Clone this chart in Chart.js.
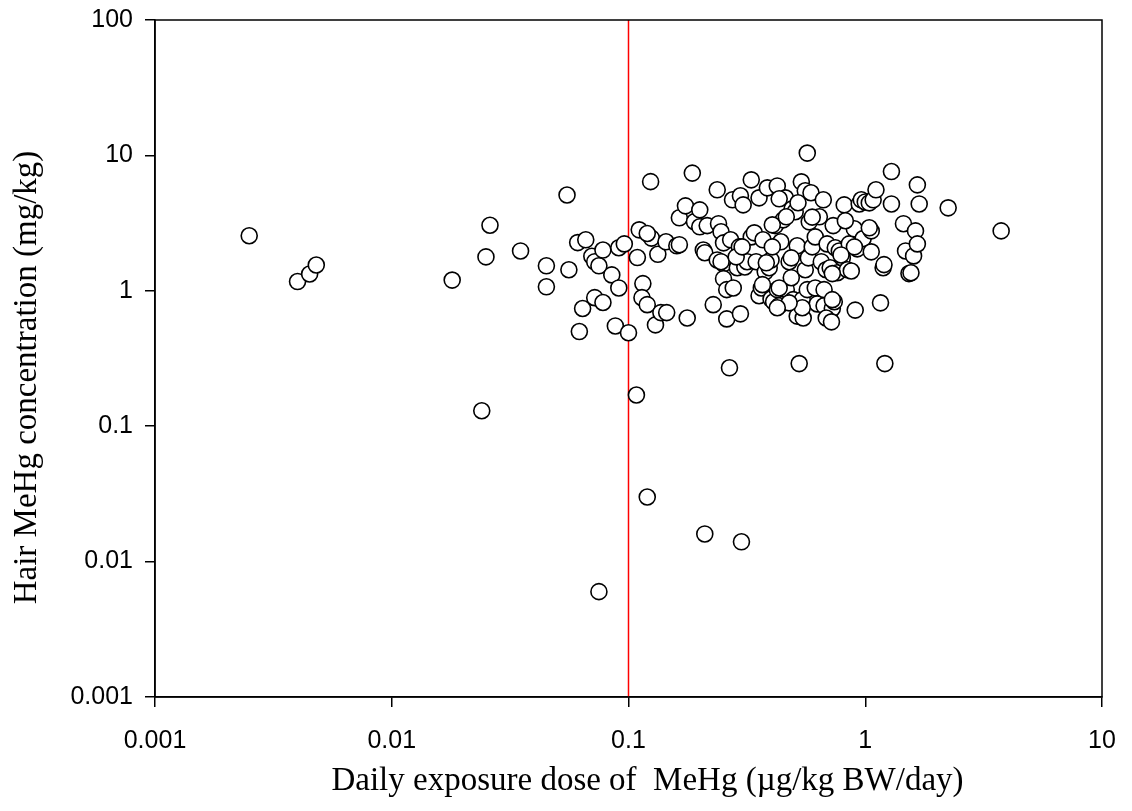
<!DOCTYPE html>
<html lang="en">
<head>
  <meta charset="UTF-8">
  <title>Hair MeHg vs daily exposure dose</title>
  <script src="https://cdn.jsdelivr.net/npm/chart.js"></script>
  <style>
    body { margin: 0; background: #fff; }
    #wrap { width: 1132px; height: 811px; }
  </style>
</head>
<body>
  <div id="wrap"><canvas id="scatterChart" width="1132" height="811"></canvas></div>
  <script>
    // daily exposure dose (ug/kg BW/day) and hair MeHg (mg/kg)
    const doseValues = [
      0.0025, 0.004, 0.0045, 0.0048, 0.018, 0.024, 0.025, 0.026, 0.035, 0.045,
      0.045, 0.055, 0.056, 0.061, 0.062, 0.064, 0.066, 0.07, 0.072, 0.072,
      0.075, 0.075, 0.078, 0.078, 0.085, 0.088, 0.091, 0.091, 0.096, 0.1,
      0.108, 0.111, 0.109, 0.115, 0.114, 0.12, 0.12, 0.124, 0.125, 0.13,
      0.133, 0.137, 0.144, 0.145, 0.16, 0.164, 0.164, 0.174, 0.177, 0.186,
      0.19, 0.2, 0.2, 0.207, 0.21, 0.215, 0.21, 0.228, 0.237, 0.237,
      0.24, 0.246, 0.252, 0.252, 0.252, 0.26, 0.26, 0.267, 0.27, 0.275,
      0.277, 0.286, 0.288, 0.294, 0.297, 0.297, 0.3, 0.305, 0.31, 0.317,
      0.33, 0.33, 0.34, 0.346, 0.356, 0.356, 0.364, 0.37, 0.378, 0.386,
      0.393, 0.4, 0.4, 0.41, 0.417, 0.425, 0.425, 0.433, 0.44, 0.45,
      0.46, 0.464, 0.477, 0.487, 0.491, 0.496, 0.506, 0.516, 0.516, 0.526,
      0.537, 0.542, 0.547, 0.558, 0.558, 0.569, 0.569, 0.575, 0.58, 0.59,
      0.597, 0.615, 0.615, 0.627, 0.64, 0.652, 0.665, 0.67, 0.684, 0.69,
      0.705, 0.711, 0.726, 0.732, 0.74, 0.747, 0.762, 0.777, 0.8, 0.815,
      0.84, 0.856, 0.873, 0.899, 0.907, 0.925, 0.943, 0.962, 0.98, 1.0,
      1.04, 1.06, 1.06, 1.08, 1.11, 1.16, 1.19, 1.21, 1.29, 1.29,
      1.45, 1.48, 1.53, 1.56, 1.6, 1.63, 1.66, 1.66, 1.69, 2.24,
      3.75, 0.12, 0.246, 0.285, 0.302, 0.405, 0.405, 0.382, 0.52, 0.433,
      0.597, 0.464, 0.824, 1.04, 0.9, 0.79, 0.487, 1.2, 0.368, 0.433,
      0.67, 0.726, 0.542, 0.477, 0.425, 0.684, 0.72, 0.726
    ];
    const hairValues = [
      2.55, 1.17, 1.33, 1.55, 1.2, 0.13, 1.78, 3.05, 1.97, 1.53,
      1.07, 5.1, 1.43, 2.27, 0.5, 0.74, 2.38, 1.8, 1.64, 0.89,
      0.006, 1.53, 2.0, 0.82, 1.31, 0.55, 1.05, 2.08, 2.22, 0.49,
      0.17, 2.82, 1.76, 1.13, 0.89, 0.03, 0.79, 6.4, 2.45, 0.56,
      1.86, 0.69, 2.3, 0.69, 2.15, 3.46, 2.19, 4.24, 0.63, 7.4,
      3.24, 2.97, 3.96, 2.0, 0.016, 3.03, 1.91, 0.79, 5.57, 1.69,
      3.13, 2.73, 2.26, 1.58, 1.23, 1.02, 0.62, 0.27, 2.38, 4.7,
      1.05, 1.64, 1.48, 2.11, 5.03, 0.676, 0.014, 4.31, 1.5, 1.64,
      6.6, 2.5, 2.68, 1.64, 4.86, 0.92, 1.05, 2.38, 1.38, 5.76,
      1.48, 1.69, 0.87, 0.83, 3.03, 5.95, 1.02, 0.775, 2.3, 3.34,
      4.86, 1.02, 1.64, 1.25, 4.03, 0.86, 3.84, 2.15, 0.65, 0.29,
      6.38, 0.86, 0.63, 5.48, 1.43, 10.4, 1.02, 1.75, 3.23, 5.3,
      2.11, 2.5, 1.05, 0.8, 3.52, 1.64, 4.7, 0.775, 1.43, 2.22,
      0.63, 1.48, 0.74, 3.03, 0.83, 2.08, 1.36, 1.97, 1.75, 4.31,
      1.43, 2.22, 1.4, 2.87, 0.72, 2.04, 4.38, 4.7, 2.43, 4.53,
      4.46, 2.77, 1.94, 4.7, 5.57, 0.815, 1.48, 0.29, 7.6, 4.38,
      3.13, 1.97, 1.34, 1.36, 1.81, 2.77, 2.22, 6.06, 4.38, 4.1,
      2.77, 2.65, 1.64, 1.78, 2.11, 3.07, 2.11, 1.61, 4.47, 4.78,
      3.5, 3.52, 3.29, 2.92, 2.11, 1.84, 1.75, 1.56, 1.11, 1.05,
      1.02, 0.86, 0.75, 0.815, 0.75, 0.63, 0.59, 1.34
    ];
    const referenceDose = 0.1;
    const xTickValues = [0.001, 0.01, 0.1, 1, 10];
    const xTickLabels = ['0.001', '0.01', '0.1', '1', '10'];
    const yTickValues = [0.001, 0.01, 0.1, 1, 10, 100];
    const yTickLabels = ['0.001', '0.01', '0.1', '1', '10', '100'];
    const xTitle = 'Daily exposure dose of  MeHg (\u00b5g/kg BW/day)';
    const yTitle = 'Hair MeHg concentration (mg/kg)';

    const points = doseValues.map((d, i) => ({ x: d, y: hairValues[i] }));
    const tickFont = { family: "'Liberation Sans', Arial, sans-serif", size: 25, lineHeight: 1 };
    const titleFont = "33px 'Liberation Serif', 'Times New Roman', serif";

    // box round the plot area, plus the two axis titles (sit a bit off-centre in the original)
    const frame = {
      id: 'frame',
      afterDatasetsDraw(chart) {
        const { ctx, chartArea: a } = chart;
        ctx.save();
        ctx.strokeStyle = '#000';
        ctx.lineWidth = 1.5;
        ctx.strokeRect(a.left, a.top, a.right - a.left, a.bottom - a.top);
        ctx.fillStyle = '#000';
        ctx.font = titleFont;
        ctx.textAlign = 'center';
        ctx.textBaseline = 'middle';
        ctx.fillText(xTitle, (a.left + a.right) / 2 + 19, 781);
        ctx.translate(27, (a.top + a.bottom) / 2 + 19);
        ctx.rotate(-Math.PI / 2);
        ctx.fillText(yTitle, 0, 0);
        ctx.restore();
      }
    };

    new Chart(document.getElementById('scatterChart'), {
      type: 'scatter',
      data: {
        datasets: [
          {
            data: points,
            pointRadius: 8,
            pointHoverRadius: 8,
            pointBackgroundColor: '#fff',
            pointBorderColor: '#000',
            pointBorderWidth: 1.6,
            order: 1
          },
          {
            data: [{ x: referenceDose, y: 0.001 }, { x: referenceDose, y: 100 }],
            showLine: true,
            borderColor: '#ff0000',
            borderWidth: 1.5,
            pointRadius: 0,
            order: 2
          }
        ]
      },
      options: {
        responsive: false,
        animation: false,
        layout: { padding: { top: 20, right: 30, left: 0, bottom: 0 } },
        plugins: { legend: { display: false }, tooltip: { enabled: false } },
        scales: {
          x: {
            type: 'logarithmic',
            min: 0.001,
            max: 10,
            afterBuildTicks: s => { s.ticks = xTickValues.map(v => ({ value: v })); },
            afterFit: s => { s.height = 114; s.paddingLeft = 0; s.paddingRight = 0; },
            ticks: {
              color: '#000', font: tickFont, padding: 22, maxRotation: 0,
              callback: (v, i) => xTickLabels[i]
            },
            grid: { drawOnChartArea: false, tickLength: 10, color: '#000', lineWidth: 1.5 },
            border: { color: '#000', width: 1.5 }
          },
          y: {
            type: 'logarithmic',
            min: 0.001,
            max: 100,
            afterBuildTicks: s => { s.ticks = yTickValues.map(v => ({ value: v })); },
            afterFit: s => { s.width = 155; s.paddingTop = 0; s.paddingBottom = 0; },
            ticks: {
              color: '#000', font: tickFont, padding: 12,
              callback: (v, i) => yTickLabels[i]
            },
            grid: { drawOnChartArea: false, tickLength: 10, color: '#000', lineWidth: 1.5 },
            border: { color: '#000', width: 1.5 }
          }
        }
      },
      plugins: [frame]
    });
  </script>
</body>
</html>
